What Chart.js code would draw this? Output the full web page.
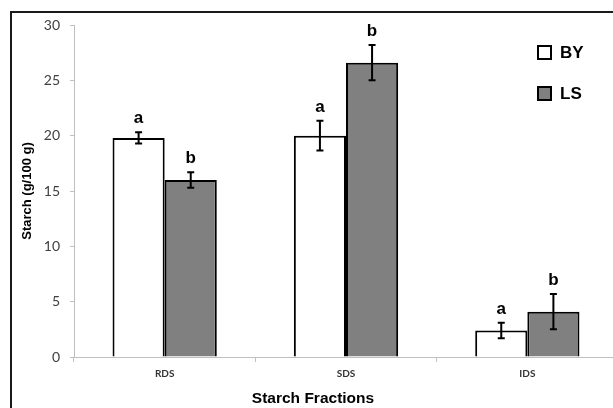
<!DOCTYPE html>
<html>
<head>
<meta charset="utf-8">
<script src="https://cdn.jsdelivr.net/npm/chart.js@4/dist/chart.umd.min.js"></script>
<style>
  html, body { margin: 0; padding: 0; background: #fff; overflow: hidden; }
  #wrap { width: 613px; height: 408px; overflow: hidden; }
</style>
</head>
<body>
<div id="wrap"><canvas id="c" width="625" height="408"></canvas></div>
<script>
// Fracciones de almidón — BY vs LS
const categories = ["RDS", "SDS", "IDS"];
const byValues = [19.8, 20.0, 2.4];
const lsValues = [16.0, 26.6, 4.1];
const byErrors = [0.5, 1.35, 0.7];
const lsErrors = [0.7, 1.6, 1.6];
const byLetters = ["a", "a", "a"];
const lsLetters = ["b", "b", "b"];
const yMin = 0, yMax = 30, yStep = 5;

const errors = [byErrors, lsErrors];
const letters = [byLetters, lsLetters];

const BOLD = "'Liberation Sans', Arial, sans-serif";
const TICK = "Lato, 'Open Sans', sans-serif";

// marco (solo izquierda y arriba), barras de error, letras, leyenda, título x
const extras = {
  id: "extras",
  beforeDraw(chart) {
    const ctx = chart.ctx;
    ctx.save();
    ctx.strokeStyle = "#1a1a1a";
    ctx.lineWidth = 2;
    ctx.beginPath();
    ctx.moveTo(11, 408);
    ctx.lineTo(11, 12);
    ctx.lineTo(640, 12);
    ctx.stroke();
    ctx.restore();
  },
  afterDatasetsDraw(chart) {
    const ctx = chart.ctx;
    const y = chart.scales.y;
    ctx.save();
    chart.data.datasets.forEach((ds, di) => {
      chart.getDatasetMeta(di).data.forEach((bar, i) => {
        const v = ds.data[i], e = errors[di][i];
        const top = y.getPixelForValue(v + e), bot = y.getPixelForValue(v - e);
        ctx.strokeStyle = "#000";
        ctx.lineWidth = 2;
        ctx.beginPath();
        ctx.moveTo(bar.x, top); ctx.lineTo(bar.x, bot);
        ctx.moveTo(bar.x - 3.5, top); ctx.lineTo(bar.x + 3.5, top);
        ctx.moveTo(bar.x - 3.5, bot); ctx.lineTo(bar.x + 3.5, bot);
        ctx.stroke();
        ctx.fillStyle = "#000";
        ctx.font = `bold 17px ${BOLD}`;
        ctx.textAlign = "center";
        ctx.textBaseline = "alphabetic";
        ctx.fillText(letters[di][i], bar.x, top - 9);
      });
    });
    ctx.restore();
  },
  afterDraw(chart) {
    const ctx = chart.ctx;
    ctx.save();
    chart.data.datasets.forEach((ds, di) => {
      const ty = 46 + di * 41;
      ctx.fillStyle = ds.backgroundColor;
      ctx.fillRect(538, ty, 13, 13);
      ctx.strokeStyle = "#000";
      ctx.lineWidth = 2;
      ctx.strokeRect(538, ty, 13, 13);
      ctx.fillStyle = "#000";
      ctx.font = `bold 17px ${BOLD}`;
      ctx.textAlign = "left";
      ctx.textBaseline = "middle";
      ctx.fillText(ds.label, 560, ty + 7);
    });
    ctx.font = `bold 15.5px ${BOLD}`;
    ctx.textAlign = "center";
    ctx.textBaseline = "middle";
    ctx.fillStyle = "#000";
    ctx.fillText("Starch Fractions", 313, 399);
    ctx.restore();
  },
};

new Chart(document.getElementById("c"), {
  type: "bar",
  data: {
    labels: categories,
    datasets: [
      { label: "BY", data: byValues, backgroundColor: "#ffffff", borderColor: "#000", borderWidth: 2 },
      { label: "LS", data: lsValues, backgroundColor: "#808080", borderColor: "#000", borderWidth: 2 },
    ],
  },
  options: {
    responsive: false,
    animation: false,
    events: [],
    layout: { padding: { top: 25, right: 7, left: 0, bottom: 0 } },
    datasets: { bar: { categoryPercentage: 0.575, barPercentage: 1 } },
    plugins: { legend: { display: false }, tooltip: { enabled: false } },
    scales: {
      x: {
        afterFit: (s) => { s.height = 51; },
        grid: { drawOnChartArea: false, tickLength: 5, color: "#bfbfbf", offset: true },
        border: { color: "#bfbfbf", width: 1 },
        ticks: { color: "#333", padding: 6, font: { family: TICK, size: 10, weight: "bold" } },
      },
      y: {
        min: yMin, max: yMax,
        afterFit: (s) => { s.width = 74; },
        grid: { drawOnChartArea: false, tickLength: 4, color: "#bfbfbf" },
        border: { color: "#bfbfbf", width: 1 },
        ticks: { stepSize: yStep, color: "#404040", padding: 10, font: { family: TICK, size: 14 } },
        title: {
          display: true, text: "Starch (g/100 g)", color: "#000",
          padding: { top: 20, bottom: 0 },
          font: { family: BOLD, size: 13, weight: "bold" },
        },
      },
    },
  },
  plugins: [extras],
});
</script>
</body>
</html>
